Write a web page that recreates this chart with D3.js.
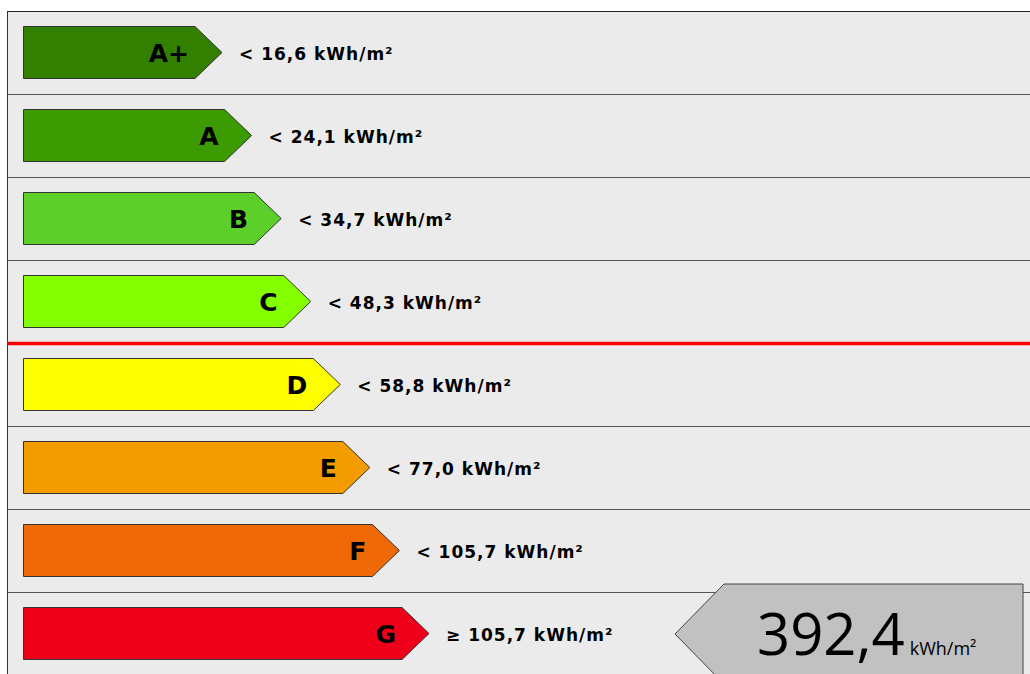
<!DOCTYPE html>
<html>
<head>
<meta charset="utf-8">
<script src="https://cdn.jsdelivr.net/npm/d3@7"></script>
<style>
  html, body { margin: 0; padding: 0; background: #fff; }
  #chart { width: 1030px; height: 674px; overflow: hidden; }
</style>
</head>
<body>
<div id="chart"></div>
<script>
// energy classes, top to bottom
const classes = ["A+", "A", "B", "C", "D", "E", "F", "G"];
const limits = ["< 16,6 kWh/m²", "< 24,1 kWh/m²", "< 34,7 kWh/m²", "< 48,3 kWh/m²",
                "< 58,8 kWh/m²", "< 77,0 kWh/m²", "< 105,7 kWh/m²", "≥ 105,7 kWh/m²"];
const colors = ["#338000", "#3c9b00", "#5ccf2a", "#84ff00", "#ffff00", "#f39c00", "#ef6a06", "#ee001b"];
const currentValue = "392,4";
const currentClass = "G";
const requiredClass = "C"; // red line drawn below this class

const width = 1030, height = 674;

const svg = d3.select('#chart')
    .append('svg')
    .attr('width', width)
    .attr('height', height)
    .style('font-family', '"DejaVu Sans", Verdana, sans-serif');

const y = d3.scaleBand()
    .domain(classes)
    .range([11, 11 + 83 * classes.length]);

// bar length grows with class index
const barEnd = d3.scaleLinear()
    .domain([0, classes.length - 1])
    .range([195, 402]);

const barLeft = 23, barTop = 16, barH = 52, tip = 27;

// row backgrounds
svg.selectAll('rect.row')
    .data(classes)
    .join('rect')
    .attr('class', 'row')
    .attr('x', 7.5)
    .attr('y', d => y(d) + 0.5)
    .attr('width', width)
    .attr('height', y.bandwidth())
    .attr('fill', '#ebebeb')
    .attr('stroke', '#555')
    .attr('stroke-width', 1);

svg.append('line')
    .attr('x1', 7.5).attr('x2', 7.5)
    .attr('y1', 11).attr('y2', height)
    .attr('stroke', '#333');
svg.append('line')
    .attr('x1', 7).attr('x2', width)
    .attr('y1', 11.5).attr('y2', 11.5)
    .attr('stroke', '#222');

const rows = svg.selectAll('g.cls')
    .data(classes)
    .join('g')
    .attr('class', 'cls')
    .attr('transform', d => `translate(0,${y(d)})`);

rows.append('path')
    .attr('d', (d, i) => {
        const e = barEnd(i);
        const t = barTop - 0.5, b = barTop + barH - 0.5;
        return `M${barLeft + 0.5},${t} L${e},${t} L${e + tip},${t + barH / 2} L${e},${b} L${barLeft + 0.5},${b} Z`;
    })
    .attr('fill', (d, i) => colors[i])
    .attr('stroke', '#333')
    .attr('stroke-width', 1);

rows.append('text')
    .attr('x', (d, i) => barEnd(i) - 6)
    .attr('y', barTop + barH / 2 + 9)
    .attr('text-anchor', 'end')
    .attr('font-size', 25)
    .attr('font-weight', 'bold')
    .attr('fill', '#000')
    .text(d => d);

rows.append('text')
    .attr('x', (d, i) => barEnd(i) + tip + 17)
    .attr('y', barTop + barH / 2 + 7)
    .attr('font-size', 17)
    .attr('font-weight', 'bold')
    .attr('letter-spacing', 1)
    .attr('fill', '#000')
    .text((d, i) => limits[i]);

// red requirement line
const redY = y(requiredClass) + y.bandwidth();
svg.append('line')
    .attr('x1', 7).attr('x2', width)
    .attr('y1', redY + 0.5).attr('y2', redY + 0.5)
    .attr('stroke', '#ff0000')
    .attr('stroke-width', 3.5);

// current value pointer
const cy = y(currentClass) + barTop + barH / 2;
const pTip = 675, pLeft = 724, pRight = 1023, pHalf = 50;
const pointer = svg.append('g');
pointer.append('path')
    .attr('d', `M${pTip},${cy} L${pLeft},${cy - pHalf} L${pRight},${cy - pHalf} L${pRight},${cy + pHalf} L${pLeft},${cy + pHalf} Z`)
    .attr('fill', '#c1c1c1')
    .attr('stroke', '#444')
    .attr('stroke-width', 1);

const valText = pointer.append('text')
    .attr('x', 757)
    .attr('y', cy + 21)
    .style('font-family', '"Open Sans", sans-serif')
    .attr('fill', '#000');
valText.append('tspan')
    .attr('font-size', 58)
    .text(currentValue);
valText.append('tspan')
    .attr('dx', 5)
    .attr('font-size', 18)
    .text('kWh/m²');
</script>
</body>
</html>
